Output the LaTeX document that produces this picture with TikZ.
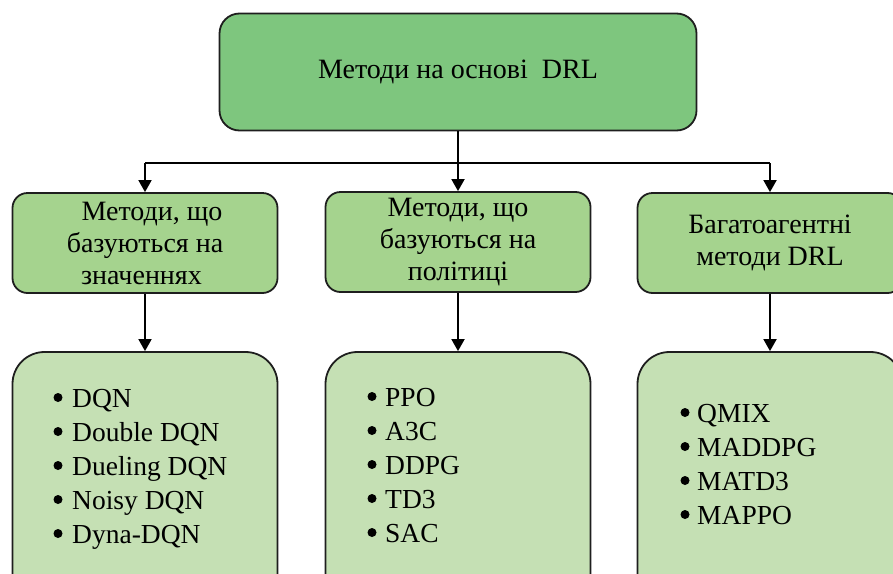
\documentclass[tikz,border=0pt]{standalone}
\usepackage{fontspec}
\setmainfont{Liberation Serif}
\usetikzlibrary{arrows.meta}
\definecolor{topgreen}{RGB}{126,198,126}
\definecolor{midgreen}{RGB}{165,211,142}
\definecolor{lowgreen}{RGB}{197,224,180}
\definecolor{edge}{RGB}{30,30,30}
\tikzset{
  box/.style={draw=edge, line width=1.8pt, inner sep=0pt, align=center, text=black},
  topbox/.style={box, fill=topgreen, rounded corners=20pt, minimum width=477pt, minimum height=117pt,
    font=\fontsize{28}{32}\selectfont},
  midbox/.style={box, fill=midgreen, rounded corners=15pt, minimum width=265pt, minimum height=100pt,
    font=\fontsize{28}{32}\selectfont},
  lowbox/.style={box, fill=lowgreen, rounded corners=32pt, minimum width=265pt, minimum height=260pt},
  item/.style={inner sep=0pt, anchor=base west, font=\fontsize{27.5}{34}\selectfont},
  bul/.style={fill=black},
  conn/.style={draw=black, line width=1.8pt},
  arr/.style={conn, -{Triangle[width=13pt,length=12pt]}}
}
\begin{document}
\begin{tikzpicture}[x=1pt,y=-1pt]
\useasboundingbox (0,0) rectangle (893,573);
\clip (0,0) rectangle (893,573);
\node[topbox] (top) at (458,72) {Методи на основі\ \ DRL};
\node[midbox] (v) at (145,243) {\ \ Методи, що\\базуються на\\значеннях\ \ };
\node[midbox] (p) at (458,242) {Методи, що\\базуються на\\політиці};
\node[midbox] (m) at (770,243) {Багатоагентні\\методи DRL};
\node[lowbox] (vl) at (145,482) {};
\node[lowbox] (pl) at (458,482) {};
\node[lowbox] (ml) at (770,482) {};
\foreach \t [count=\i] in {DQN, Double DQN, Dueling DQN, Noisy DQN, Dyna-DQN} {
  \node[item] (vi\i) at (72,{407+34*(\i-1)}) {\t};
  \fill[bul] ([xshift=-14pt,yshift=9.5pt]vi\i.base west) circle (4.5pt);
}
\foreach \t [count=\i] in {PPO, A3C, DDPG, TD3, SAC} {
  \node[item] (pi\i) at (385,{406+34*(\i-1)}) {\t};
  \fill[bul] ([xshift=-13pt,yshift=9.5pt]pi\i.base west) circle (4.5pt);
}
\foreach \t [count=\i] in {QMIX, MADDPG, MATD3, MAPPO} {
  \node[item] (mi\i) at (697,{422+34*(\i-1)}) {\t};
  \fill[bul] ([xshift=-12pt,yshift=9.5pt]mi\i.base west) circle (4.5pt);
}
\coordinate (bus) at (458,163);
\draw[arr] (top.south) -- (p.north);
\draw[arr] (v.north |- bus) -- (v.north);
\draw[arr] (m.north |- bus) -- (m.north);
\draw[conn] (v.north |- bus) -- (m.north |- bus);
\draw[arr] (v.south) -- (vl.north);
\draw[arr] (p.south) -- (pl.north);
\draw[arr] (m.south) -- (ml.north);
\end{tikzpicture}
\end{document}
